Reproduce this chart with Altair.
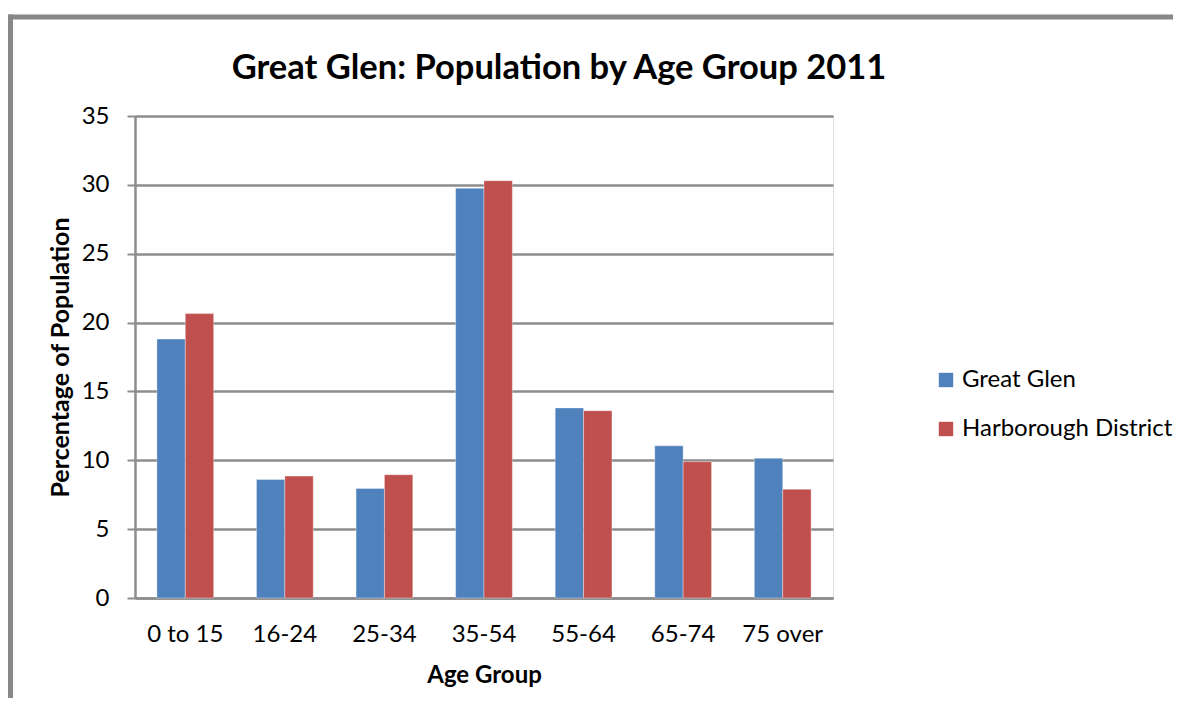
import altair as alt
import pandas as pd

categories = ["0 to 15", "16-24", "25-34", "35-54", "55-64", "65-74", "75 over"]
great_glen = [18.8, 8.6, 7.95, 29.75, 13.8, 11.05, 10.15]
harborough = [20.65, 8.85, 8.95, 30.3, 13.6, 9.9, 7.9]
series_names = ["Great Glen", "Harborough District"]
series_colors = ["#4F81BD", "#C0504D"]
y_ticks = [0, 5, 10, 15, 20, 25, 30, 35]
chart_title = ["Great Glen: Population by Age Group 2011"]

rows = []
for c, a, b in zip(categories, great_glen, harborough):
    rows.append({"Age Group": c, "Series": series_names[0], "Value": a})
    rows.append({"Age Group": c, "Series": series_names[1], "Value": b})
df = pd.DataFrame(rows)

FONT = "Lato"
GRID = "#8C8C8C"

bars = alt.Chart(df).mark_bar(stroke="#ffffff", strokeOpacity=0.35, strokeWidth=1).encode(
    x=alt.X("Age Group:N", sort=categories,
            scale=alt.Scale(paddingInner=0.43, paddingOuter=0.22),
            axis=alt.Axis(title="Age Group", labelAngle=0, tickSize=0, ticks=False,
                          labelPadding=43, labelBaseline="alphabetic",
                          labelFont=FONT, labelFontSize=24, labelColor="#000000",
                          titleFont=FONT, titleFontSize=24, titleFontWeight="bold",
                          titleColor="#000000", titleX=349, titleY=84,
                          titleBaseline="alphabetic", titleAlign="center",
                          domainColor=GRID, domainWidth=2.5)),
    xOffset=alt.XOffset("Series:N", sort=series_names),
    y=alt.Y("Value:Q", scale=alt.Scale(domain=[0, 35], nice=False),
            axis=alt.Axis(title="Percentage of Population", values=y_ticks,
                          tickSize=8, tickColor=GRID, tickWidth=2,
                          labelPadding=18, labelFont=FONT, labelFontSize=24,
                          labelColor="#000000",
                          gridColor=GRID, gridWidth=2.5,
                          domainColor=GRID, domainWidth=2.5,
                          titleFont=FONT, titleFontSize=25, titleFontWeight="bold",
                          titleColor="#000000", titleAngle=270, titleX=-67,
                          titleY=241, titleBaseline="alphabetic",
                          titleAlign="center")),
    color=alt.Color("Series:N", sort=series_names,
                    scale=alt.Scale(domain=series_names, range=series_colors),
                    legend=alt.Legend(title=None, orient="none", legendX=799,
                                      legendY=252, symbolType="square",
                                      symbolSize=207, symbolStrokeWidth=0,
                                      labelFont=FONT, labelFontSize=24,
                                      labelColor="#000000", labelOffset=4,
                                      labelLimit=0,
                                      rowPadding=25, padding=0)),
)

frame_data = alt.Data(values=[{"k": 1}])
frame_left = alt.Chart(frame_data).mark_rule(color="#888888", strokeWidth=5).encode(
    x=alt.value(-124.5), y=alt.value(-101.5), y2=alt.value(700)
)
frame_top = alt.Chart(frame_data).mark_rule(color="#888888", strokeWidth=5).encode(
    x=alt.value(-127), x2=alt.value(1100), y=alt.value(-99)
)

title_df = pd.DataFrame({"t": chart_title})
title = alt.Chart(title_df).mark_text(
    font=FONT, fontSize=34.5, fontWeight="bold", color="#000000",
    align="center", baseline="alphabetic"
).encode(text="t:N", x=alt.value(424), y=alt.value(-37))

chart = alt.layer(frame_left, frame_top, bars, title).properties(
    width=698,
    height=482,
    autosize=alt.AutoSizeParams(type="none"),
    padding={"left": 127, "top": 108, "right": 340, "bottom": 100},
).configure_view(stroke=None).configure(background="#ffffff")

chart.save("out.html", embed_options={"renderer": "svg", "actions": False})
